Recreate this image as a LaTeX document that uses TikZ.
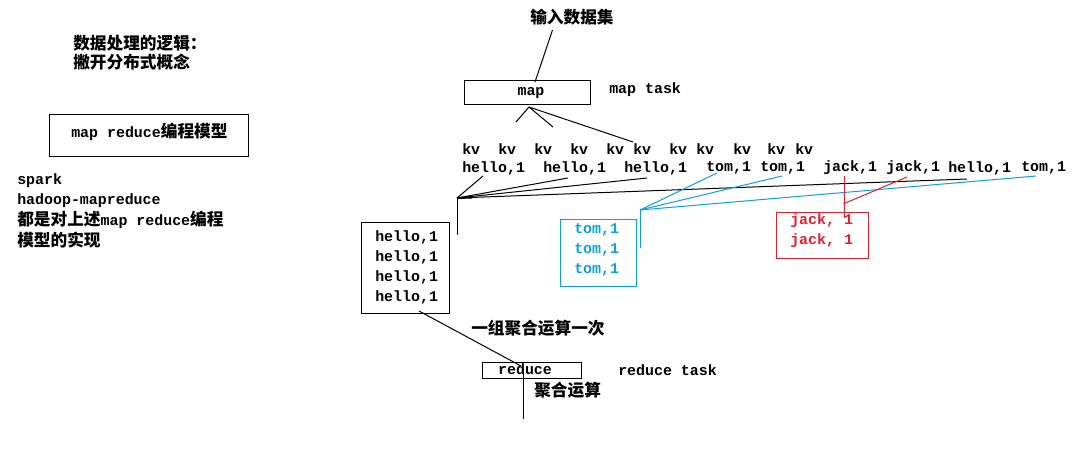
\documentclass[tikz,border=0pt]{standalone}
\usepackage{fontspec}
\setmonofont{Liberation Mono}
\newfontfamily\cjk{Noto Sans CJK SC}
\newfontfamily\lm{Liberation Mono}
\definecolor{tblue}{RGB}{10,160,230}
\definecolor{tred}{RGB}{230,30,40}
\tikzset{
  cn/.style={inner sep=0pt, anchor=west, font=\cjk\fontsize{12.5}{14}\selectfont\bfseries},
  mo/.style={inner sep=0pt, anchor=west, font=\lm\fontsize{11.2}{13}\selectfont\bfseries},
  box/.style={draw, line width=0.75pt, inner sep=0pt},
  ln/.style={line width=0.75pt},
}
\newcommand{\cc}[1]{{\cjk\fontsize{12.5}{14}\selectfont\bfseries #1}}
\begin{document}
\begin{tikzpicture}[x=0.75pt,y=-0.75pt]
\useasboundingbox (0,0) rectangle (1086,461);
% left texts
\node[cn] (t1) at (73,43) {数据处理的逻辑：};
\node[cn] (t2) at (73,62) {撇开分布式概念};
\node[box, minimum width=199*0.75pt, minimum height=42*0.75pt] (mrbox) at (148.5,135) {};
\node[mo] (mrtxt) at (71,132) {map reduce\cc{编程模型}};
\node[mo] (sp) at (17,181) {spark};
\node[mo] (hd) at (17,201) {hadoop-mapreduce};
\node[mo] (ds) at (17,220) {\cc{都是对上述}map reduce\cc{编程}};
\node[cn] (mx) at (17,240) {模型的实现};
% input
\node[cn] (input) at (530,17) {输入数据集};
\coordinate (inB) at (552.5,30);
\node[box, minimum width=126*0.75pt, minimum height=24*0.75pt] (map) at (527,92.5) {};
\node[mo, anchor=center] (maptxt) at (531,93) {map};
\coordinate (mapT) at (535,82);
\draw[ln] (inB) -- (mapT);
\node[mo] (maptask) at (609,90) {map task};
% map fan
\coordinate (mapB) at (529,107);
\coordinate (f1) at (516,122);
\coordinate (f2) at (553,127);
\coordinate (f3) at (633,142);
\draw[ln] (mapB) -- (f1);
\draw[ln] (mapB) -- (f2);
\draw[ln] (mapB) -- (f3);
% kv row
\foreach \x [count=\i] in {462,498,534,570,606,633,669,696,733,767,795}
  \node[mo] (kv\i) at (\x,149) {kv};
% hello row
\node[mo] (w1) at (462,168) {hello,1};
\node[mo] (w2) at (543,168) {hello,1};
\node[mo] (w3) at (624,168) {hello,1};
\node[mo] (w4) at (706,168) {tom,1};
\node[mo] (w5) at (760,168) {tom,1};
\node[mo] (w6) at (823,168) {jack,1};
\node[mo] (w7) at (886,168) {jack,1};
\node[mo] (w8) at (948,168) {hello,1};
\node[mo] (w9) at (1021,168) {tom,1};
% black group
\coordinate (bc) at (457,198);
\coordinate (b1) at (483,176);
\coordinate (b2) at (568,178);
\coordinate (b3) at (647,178);
\coordinate (b4) at (967,179);
\coordinate (bv) at (457,235);
\draw[ln] (b1) -- (bc);
\draw[ln] (b2) -- (bc);
\draw[ln] (b3) -- (bc);
\draw[ln] (b4) -- (bc);
\draw[line width=1.5pt] (bc) -- (472,197.5);
\draw[ln] (bc) -- (bv);
\node[box, minimum width=88*0.75pt, minimum height=91*0.75pt] (hbox) at (405,267.5) {};
\foreach \y [count=\i] in {237,257,277,297}
  \node[mo] (h\i) at (375,\y) {hello,1};
% blue group
\coordinate (uc) at (640,210);
\coordinate (u1) at (717,173);
\coordinate (u2) at (782,176);
\coordinate (u3) at (1036,176);
\coordinate (uv) at (640,248);
\draw[ln, tblue] (u1) -- (uc);
\draw[ln, tblue] (u2) -- (uc);
\draw[ln, tblue] (u3) -- (uc);
\draw[ln, tblue] (uc) -- (uv);
\node[box, draw=tblue, minimum width=76*0.75pt, minimum height=67*0.75pt] (tbox) at (598,252.5) {};
\foreach \y [count=\i] in {230,250,270}
  \node[mo, text=tblue] (tm\i) at (574,\y) {tom,1};
% red group
\coordinate (r1) at (844,176);
\coordinate (r1b) at (844,218);
\coordinate (r2) at (907,177);
\coordinate (rc) at (843,204);
\draw[ln, tred] (r1) -- (r1b);
\draw[ln, tred] (r2) -- (rc);
\node[box, draw=tred, minimum width=92*0.75pt, minimum height=46*0.75pt] (jbox) at (822,235) {};
\node[mo, text=tred] (j1) at (790,221) {jack, 1};
\node[mo, text=tred] (j2) at (790,241) {jack, 1};
% reduce
\coordinate (hB) at (419,311);
\coordinate (rT) at (521,366);
\coordinate (rB) at (523,419);
\node[box, minimum width=99*0.75pt, minimum height=16*0.75pt] (red) at (531.5,370) {};
\node[mo, anchor=center] (redtxt) at (525,369) {reduce};
\draw[ln] (hB) -- (rT);
\draw[ln] (523,370) -- (rB);
\node[mo] (redtask) at (618,370) {reduce task};
\node[cn] (grp) at (471,328) {一组聚合运算一次};
\node[cn] (agg) at (534,390) {聚合运算};
\end{tikzpicture}
\end{document}
